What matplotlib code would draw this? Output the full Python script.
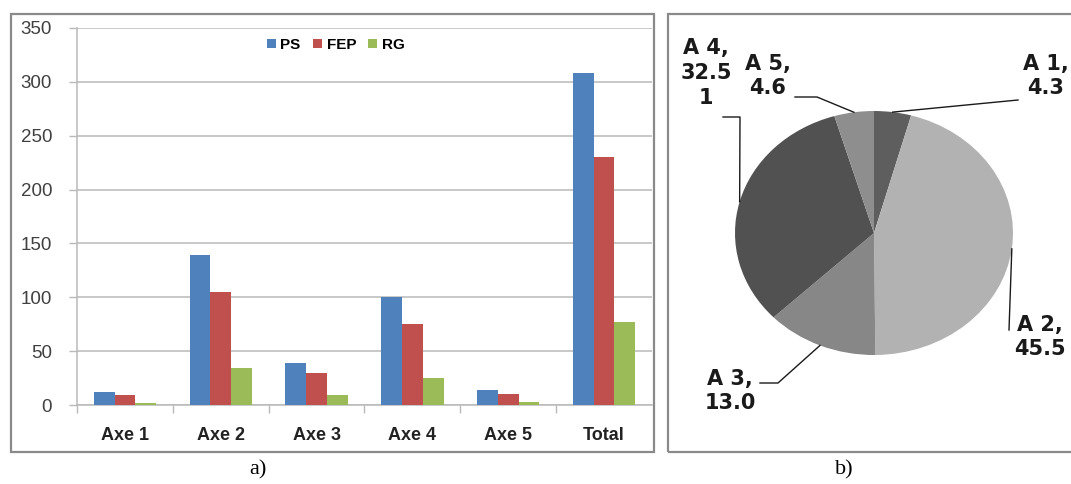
import numpy as np
import matplotlib
matplotlib.use("Agg")
import matplotlib.pyplot as plt
from matplotlib.patches import Rectangle

# ---- data -----------------------------------------------------------------
categories = ["Axe 1", "Axe 2", "Axe 3", "Axe 4", "Axe 5", "Total"]
ps_values = [12.5, 139, 39, 100, 13.5, 308]
fep_values = [9.5, 104.5, 30, 75, 10.5, 230]
rg_values = [2.2, 34, 9.5, 25, 3, 77]
series_names = ["PS", "FEP", "RG"]
series_colors = ["#4F81BD", "#C0504D", "#9BBB59"]
y_ticks = [0, 50, 100, 150, 200, 250, 300, 350]

pie_names = ["A 1", "A 2", "A 3", "A 4", "A 5"]
pie_shares = [4.3, 45.5, 13.0, 32.51, 4.6]
pie_value_text = ["4.3", "45.5", "13.0", "32.5\n1", "4.6"]
pie_colors = ["#5e5e5e", "#b2b2b2", "#878787", "#515151", "#8e8e8e"]
# ---------------------------------------------------------------------------

W, H = 1071, 484
fig = plt.figure(figsize=(W / 100, H / 100), dpi=100)
fig.patch.set_facecolor("white")


def fx(px):
    return px / W


def fy(py):
    return 1 - py / H


frame_col = "#8a8a8a"
grid_col = "#b9b9b9"
text_col = "#404040"

# ---- panel frames ----
fig.patches.append(Rectangle((fx(11), fy(452)), fx(654) - fx(11), fy(14) - fy(452),
                             transform=fig.transFigure, fill=False,
                             edgecolor=frame_col, linewidth=1.6))
fig.patches.append(Rectangle((fx(668), fy(452)), fx(1080) - fx(668), fy(14) - fy(452),
                             transform=fig.transFigure, fill=False,
                             edgecolor=frame_col, linewidth=1.6))

# ---- a) grouped bars ----
ax = fig.add_axes([fx(77), fy(405), fx(652) - fx(77), fy(28) - fy(405)])
x = np.arange(len(categories))
bw = 0.217
for i, (vals, name, col) in enumerate(zip([ps_values, fep_values, rg_values],
                                          series_names, series_colors)):
    ax.bar(x + (i - 1) * bw, vals, width=bw, color=col, label=name,
           linewidth=0, zorder=3)

ax.set_xlim(-0.5, len(categories) - 0.5)
ax.set_ylim(0, 350)
ax.set_yticks(y_ticks)
ax.set_yticklabels([str(v) for v in y_ticks], fontsize=13.5,
                   family="Liberation Sans", color=text_col)
ax.set_xticks(x)
ax.set_xticklabels(categories, fontsize=13, fontweight="bold",
                   family="Liberation Sans", color="#222222")
ax.set_xticks(np.arange(len(categories)) - 0.5, minor=True)
ax.tick_params(axis="x", which="major", length=0, pad=16)
ax.tick_params(axis="x", which="minor", length=6, width=1, color=grid_col,
               direction="out")
ax.tick_params(axis="y", which="major", length=6, width=1, color=grid_col,
               direction="out", pad=12)
ax.yaxis.grid(True, color=grid_col, linewidth=1.1, zorder=0)
ax.set_axisbelow(True)
for s in ["top", "right"]:
    ax.spines[s].set_visible(False)
for s in ["left", "bottom"]:
    ax.spines[s].set_color(grid_col)
    ax.spines[s].set_linewidth(1.1)
leg = ax.legend(loc="center", bbox_to_anchor=(0.45, 0.955), ncol=3,
                frameon=False, handlelength=0.6, handleheight=0.6,
                handletextpad=0.3, columnspacing=0.8,
                prop={"family": "Liberation Sans", "weight": "bold", "size": 11})

# ---- b) pie ----
cx, cy, rx, ry = 874, 233, 139, 122
pax = fig.add_axes([fx(668), fy(452), fx(1071) - fx(668), fy(14) - fy(452)])
wedges, _ = pax.pie(pie_shares, colors=pie_colors, startangle=90,
                    counterclock=False, wedgeprops={"linewidth": 0})
pax.set_aspect("auto")
pax.set_xlim((668 - cx) / rx, (1071 - cx) / rx)
pax.set_ylim((cy - 452) / ry, (cy - 14) / ry)
pax.axis("off")


def pd(px, py):
    return ((px - cx) / rx, (cy - py) / ry)


label_pos = {"A 1": (1046, 76), "A 2": (1040, 337), "A 3": (730, 391),
             "A 4": (706, 73), "A 5": (768, 76)}
leader_pts = {"A 1": [(1018, 100)],
              "A 2": [(1009, 330)],
              "A 3": [(760, 383), (778, 383)],
              "A 4": [(723, 117), (740, 117)],
              "A 5": [(795, 97), (817, 97)]}

for w, name, vt in zip(wedges, pie_names, pie_value_text):
    mid = np.deg2rad((w.theta1 + w.theta2) / 2)
    anchor = (np.cos(mid), np.sin(mid))
    pts = [pd(*p) for p in leader_pts[name]] + [anchor]
    xs, ys = zip(*pts)
    pax.plot(xs, ys, color="#1a1a1a", linewidth=1.0, clip_on=False)
    tx, ty = pd(*label_pos[name])
    pax.text(tx, ty, f"{name},\n{vt}", ha="center", va="center",
             fontsize=15, fontweight="bold", family="DejaVu Sans",
             color="#1a1a1a", linespacing=1.3)

# ---- captions ----
fig.text(fx(258), fy(470), "a)", ha="center", va="center", fontsize=16,
         family="Liberation Serif")
fig.text(fx(844), fy(470), "b)", ha="center", va="center", fontsize=16,
         family="Liberation Serif")

fig.savefig("out.png", dpi=100)
